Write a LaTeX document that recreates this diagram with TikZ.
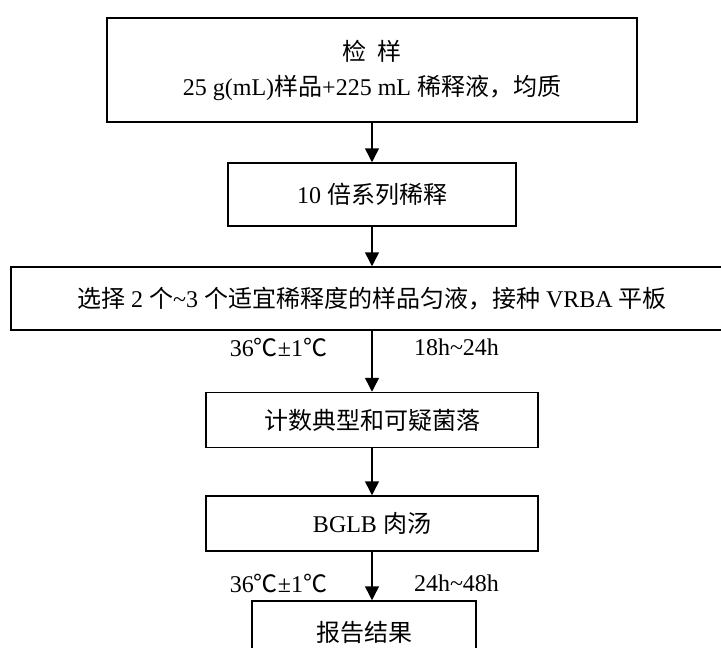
\documentclass[tikz,border=0pt]{standalone}
\usepackage{fontspec}
\setmainfont{Liberation Serif}
\newfontfamily\cjk{Noto Sans CJK SC}
\usetikzlibrary{arrows.meta}
\newcommand\zh[1]{{\cjk #1}}
\begin{document}
\begin{tikzpicture}[x=1pt,y=-1pt,
  box/.style={draw,line width=1.5pt,inner sep=0pt,align=center,
    font=\fontsize{24}{35}\selectfont},
  lbl/.style={inner sep=0pt,font=\fontsize{24}{28}\selectfont},
  arr/.style={line width=1.5pt,-{Triangle[length=14pt,width=14pt]}}]
\clip (0,0) rectangle (721,648);
\node[box,minimum width=530pt,minimum height=104pt] (b1) at (372,70)
  {\zh{检}\hspace{0.5em}\zh{样}\\25 g(mL)\zh{样品}+225 mL \zh{稀释液，均质}};
\node[box,minimum width=288pt,minimum height=63pt] (b2) at (372,194.5)
  {10 \zh{倍系列稀释}};
\node[box,minimum width=722pt,minimum height=63pt] (b3) at (372,298.5)
  {\zh{选择} 2 \zh{个}\char`~3 \zh{个适宜稀释度的样品匀液，接种} VRBA \zh{平板}};
\node[box,minimum width=332pt,minimum height=55pt] (b4) at (372,420)
  {\zh{计数典型和可疑菌落}};
\node[box,minimum width=332pt,minimum height=55pt] (b5) at (372,523.5)
  {BGLB \zh{肉汤}};
\node[box,minimum width=224pt,minimum height=62pt] (b6) at (364,632)
  {\zh{报告结果}};
\node[lbl] (t1) at (278.5,347) {36\zh{℃}±1\zh{℃}};
\node[lbl] (h1) at (456.5,347) {18h\char`~24h};
\node[lbl] (t2) at (278.5,583) {36\zh{℃}±1\zh{℃}};
\node[lbl] (h2) at (456.5,583) {24h\char`~48h};
\draw[arr] (b1.south) -- (b2.north);
\draw[arr] (b2.south) -- (b3.north);
\draw[arr] (b3.south) -- (b4.north);
\draw[arr] (b4.south) -- (b5.north);
\draw[arr] (b5.south) -- (b5.south |- b6.north);
\end{tikzpicture}
\end{document}
